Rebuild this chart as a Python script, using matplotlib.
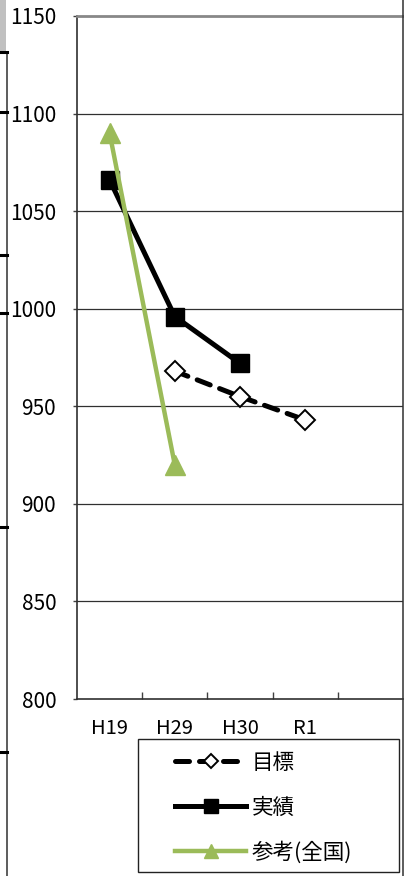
import matplotlib
matplotlib.use("Agg")
import matplotlib.pyplot as plt
from matplotlib.lines import Line2D
from matplotlib.patches import Rectangle

plt.rcParams['font.family'] = ['Noto Sans CJK JP', 'DejaVu Sans']

# fiscal years on the category axis
years = ["H19", "H29", "H30", "R1"]

# target (目標) starts at H29
target_x = [1, 2, 3]
target = [968, 955, 943]

# actual (実績)
actual_x = [0, 1, 2]
actual = [1066, 996, 972]

# national reference (参考(全国))
ref_x = [0, 1]
ref = [1090, 920]

ymin, ymax, ystep = 800, 1150, 50
green = "#9BBB59"

W, H = 404, 876
fig = plt.figure(figsize=(W / 100, H / 100), dpi=100)
ax = fig.add_axes([77 / W, 1 - 699 / H, (403 - 77) / W, (699 - 16) / H])

ax.plot(target_x, target, color="black", lw=3.6, dashes=(2.8, 2.0),
        dash_capstyle="round", marker="D", ms=10, mfc="white", mec="black",
        mew=1.4, label="目標", zorder=3)
ax.plot(actual_x, actual, color="black", lw=3.6, marker="s", ms=13,
        label="実績", zorder=4)
ax.plot(ref_x, ref, color=green, lw=3.2, marker="^", ms=14,
        label="参考(全国)", zorder=5)

ax.set_xlim(-0.5, 4.5)
ax.set_ylim(ymin, ymax)
ax.set_yticks(range(ymin, ymax + 1, ystep))
ax.set_xticks(range(len(years)))
ax.set_xticklabels(years, fontsize=14.5)
ax.set_xticks([i + 0.5 for i in range(len(years))], minor=True)
ax.tick_params(axis="x", which="major", length=0, pad=14)
ax.tick_params(axis="x", which="minor", direction="in", length=5,
               width=1, color="#404040")
ax.tick_params(axis="y", direction="out", length=3, width=1,
               color="#404040", labelsize=15, pad=12)

for v in range(ymin + ystep, ymax, ystep):
    ax.axhline(v, color="#303030", lw=0.9, zorder=1)

for s in ("left", "bottom"):
    ax.spines[s].set_color("#303030")
    ax.spines[s].set_linewidth(1.2)
ax.spines["top"].set_color("#888888")
ax.spines["top"].set_linewidth(2)
ax.spines["right"].set_visible(False)

# legend entries without frame, box drawn separately
leg = fig.legend(loc="upper left", bbox_to_anchor=(175 / W, 1 - 752 / H),
                 fontsize=15.5, frameon=False, handlelength=3.3,
                 handletextpad=0.25, borderpad=0, labelspacing=1.05,
                 borderaxespad=0, markerscale=0.75)
fig.add_artist(Rectangle((138 / W, 1 - 872 / H), (399 - 138) / W, (872 - 739) / H,
                         transform=fig.transFigure, fill=False,
                         edgecolor="#222222", lw=1.0))

# surrounding sheet border bits
fig.add_artist(Rectangle((0, 1 - 52 / H), 6 / W, 52 / H,
                         transform=fig.transFigure, color="#c0c0c0", lw=0))
fig.add_artist(Line2D([6.5 / W, 6.5 / W], [0, 1 - 52 / H],
                      transform=fig.transFigure, color="#303030", lw=1.1))
fig.add_artist(Line2D([403 / W, 403 / W], [0, 1],
                      transform=fig.transFigure, color="#303030", lw=1.1))
for yy in (52, 112, 255, 313, 527, 752):
    fig.add_artist(Line2D([0, 6.5 / W], [1 - yy / H, 1 - yy / H],
                          transform=fig.transFigure, color="black", lw=2.2))

fig.savefig("out.png", dpi=100)
